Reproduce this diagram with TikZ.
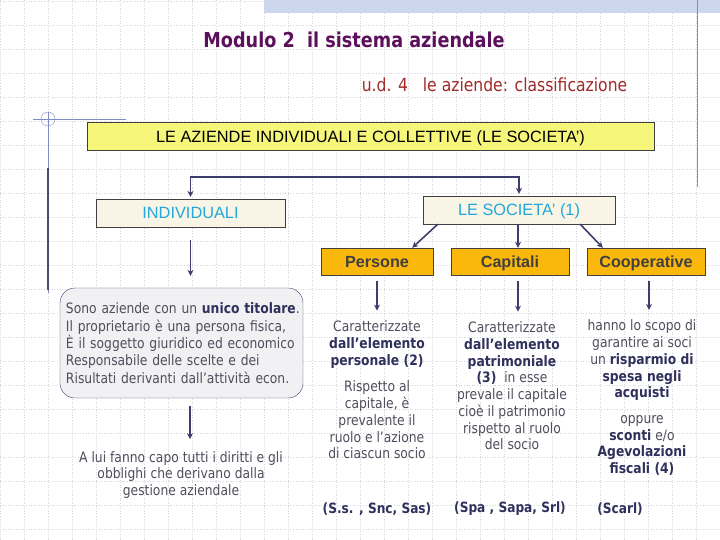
\documentclass[tikz,border=0pt]{standalone}
\usepackage{fontspec}
\setmainfont{Liberation Sans}
\newfontfamily\tahoma[FakeStretch=0.86]{DejaVu Sans}
\usetikzlibrary{positioning,arrows.meta}

\definecolor{gridgrey}{RGB}{214,214,218}
\definecolor{bandblue}{RGB}{204,214,236}
\definecolor{frameblue}{RGB}{128,138,196}
\definecolor{titlepurple}{RGB}{92,16,92}
\definecolor{subred}{RGB}{160,42,40}
\definecolor{topyellow}{RGB}{246,246,122}
\definecolor{cream}{RGB}{248,244,230}
\definecolor{labelcyan}{RGB}{34,168,218}
\definecolor{boxorange}{RGB}{250,184,12}
\definecolor{labelgrey}{RGB}{64,64,64}
\definecolor{arrownavy}{RGB}{62,62,110}
\definecolor{bodygrey}{RGB}{78,78,92}
\definecolor{boldnavy}{RGB}{48,48,92}
\definecolor{notefill}{RGB}{241,241,244}

\newcommand{\bnavy}[1]{\textcolor{boldnavy}{\bfseries #1}}

\tikzset{
  gridline/.style={gridgrey, dotted, line width=0.6bp},
  boxlabel/.style={draw=black!75, inner sep=0pt, text height=11.6bp, text depth=0.2bp, font=\fontsize{16.4}{18}\selectfont},
  rowbox/.style={boxlabel, fill=boxorange, text=labelgrey, minimum height=27bp, font=\fontsize{16.2}{18}\selectfont\bfseries},
  notebox/.style={draw=arrownavy, fill=notefill, rounded corners=15bp, inner xsep=6bp, inner ysep=0pt, text=bodygrey, align=left, font=\tahoma\fontsize{14.4}{17.4}\selectfont},
  bodytext/.style={align=center, inner sep=0pt, text=bodygrey, font=\tahoma\fontsize{14.4}{16.8}\selectfont},
  formtext/.style={inner sep=0pt, text=boldnavy, font=\tahoma\fontsize{14.2}{16}\selectfont\bfseries},
  link/.style={->, >={Stealth[length=6bp,width=6bp]}, draw=arrownavy, line width=1.6bp},
}

\begin{document}
\begin{tikzpicture}[x=1bp, y=-1bp]
\useasboundingbox (0,0) rectangle (720,540);
% slide background
\foreach \gx in {0,24,...,720} \draw[gridline] (\gx,0) -- (\gx,540);
\foreach \gy in {1,25,...,529} \draw[gridline] (0,\gy) -- (720,\gy);
\fill[bandblue] (264,0) rectangle (720,13);
\draw[frameblue] (697,0) -- (697,187);
\draw[frameblue] (33,119) -- (126,119);
\draw[frameblue] (48,119) circle (7);
\draw[frameblue] (48,112) -- (48,293);
\draw[frameblue!55!black, line width=1.5bp] (48,168) -- (48,290);

% titles
\node[text=titlepurple, font=\tahoma\fontsize{20.6}{24}\selectfont\bfseries] (title) at (354,40) {Modulo 2\ \ il sistema aziendale};
\node[text=subred, font=\tahoma\fontsize{18.2}{21}\selectfont] (sub) at (494.5,85) {u.d. 4\ \ \ le aziende: classificazione};

% boxes
\node[boxlabel, fill=topyellow, minimum width=567bp, minimum height=28bp] (top) at (370.5,136.5) {LE AZIENDE INDIVIDUALI E COLLETTIVE (LE SOCIETA')};
\node[boxlabel, fill=cream, text=labelcyan, minimum width=189bp, minimum height=28bp] (ind) at (190.5,213) {INDIVIDUALI};
\node[boxlabel, fill=cream, text=labelcyan, minimum width=192bp, minimum height=28bp] (soc) at (519,210) {LE SOCIETA' (1)};
\node[rowbox, minimum width=112bp] (pers) at (377,261.5) {Persone};
\node[rowbox, minimum width=118bp] (cap) at (510,261.5) {Capitali};
\node[rowbox, minimum width=118bp] (coop) at (646,261.5) {Cooperative};

% individuali
\node[notebox, minimum width=243bp, minimum height=110bp, text width=231bp] (indtext) at (181.5,343) {\mbox{Sono aziende con un \bnavy{unico titolare}.}\\
Il proprietario è una persona fisica,\\
È il soggetto giuridico ed economico\\
Responsabile delle scelte e dei\\
Risultati derivanti dall’attività econ.};
\node[bodytext] (indnote) at (181,475) {A lui fanno capo tutti i diritti e gli\\obblighi che derivano dalla\\gestione aziendale};

% societa'
\node[bodytext] (perstop) at (377,344.5) {Caratterizzate\\\bnavy{dall’elemento}\\\bnavy{personale (2)}};
\node[bodytext] (persbody) at (377,420) {Rispetto al\\capitale, è\\prevalente il\\ruolo e l’azione\\di ciascun socio};
\node[bodytext] (captext) at (512,386) {Caratterizzate\\\bnavy{dall’elemento}\\\bnavy{patrimoniale}\\\bnavy{(3)}\ \ in esse\\prevale il capitale\\cioè il patrimonio\\rispetto al ruolo\\del socio};
\node[bodytext] (cooptop) at (642,360.5) {hanno lo scopo di\\garantire ai soci\\un \bnavy{risparmio di}\\\bnavy{spesa negli}\\\bnavy{acquisti}};
\node[bodytext] (coopbody) at (642,445.5) {oppure\\\bnavy{sconti} e/o\\\bnavy{Agevolazioni}\\\bnavy{fiscali (4)}};
\node[formtext] (persform) at (377,509) {(S.s. , Snc, Sas)};
\node[formtext] (capform) at (510,509) {(Spa , Sapa, Srl)};
\node[formtext] (coopform) at (620,509) {(Scarl)};

% connectors
\coordinate (fork) at (190.5,177);
\draw[link, <->, shorten <=2bp, shorten >=2bp] (ind.north) -- (fork) -| (soc.north);
\draw[link] ([xshift=15bp]soc.south west) -- ([xshift=-21bp]pers.north east);
\draw[link] ([xshift=-1bp]soc.south) -- ([xshift=8bp]cap.north);
\draw[link] ([xshift=-35bp]soc.south east) -- ([xshift=16bp]coop.north west);
\draw[link, shorten <=13bp, shorten >=12bp] (ind.south) -- (ind.south |- indtext.north);
\draw[link, shorten <=8bp, shorten >=12bp] ([xshift=8.5bp]indtext.south) -- ([xshift=9bp]indnote.north);
\draw[link, shorten <=6bp, shorten >=10bp] (pers.south) -- (perstop.north);
\draw[link, shorten <=6bp, shorten >=10bp] ([xshift=8bp]cap.south) -- ([xshift=6bp]captext.north);
\draw[link, shorten <=6bp, shorten >=10bp] ([xshift=3bp]coop.south) -- ([xshift=7bp]cooptop.north);
\end{tikzpicture}
\end{document}
